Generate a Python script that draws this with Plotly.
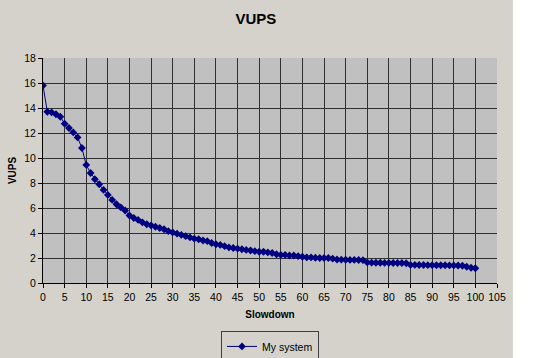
import plotly.graph_objects as go

slowdown = list(range(0, 101))
vups = [
    15.8, 13.7, 13.65, 13.5, 13.3, 12.75, 12.4, 12.05, 11.65, 10.8,
    9.45, 8.8, 8.3, 7.9, 7.45, 7.05, 6.65, 6.3, 6.05, 5.8,
    5.4, 5.2, 5.05, 4.85, 4.7, 4.6, 4.5, 4.4, 4.3, 4.15,
    4.05, 3.95, 3.85, 3.75, 3.65, 3.55, 3.5, 3.4, 3.35, 3.2,
    3.1, 3.05, 2.95, 2.85, 2.8, 2.75, 2.7, 2.65, 2.6, 2.55,
    2.5, 2.5, 2.45, 2.4, 2.3, 2.25, 2.25, 2.2, 2.2, 2.15,
    2.1, 2.05, 2.05, 2.02, 2.0, 2.0, 2.0, 1.95, 1.88, 1.87,
    1.86, 1.85, 1.85, 1.84, 1.83, 1.65, 1.63, 1.62, 1.62, 1.61,
    1.61, 1.6, 1.6, 1.6, 1.58, 1.45, 1.45, 1.44, 1.44, 1.43,
    1.43, 1.42, 1.42, 1.42, 1.41, 1.41, 1.4, 1.38, 1.3, 1.22,
    1.18,
]
x_ticks = list(range(0, 106, 5))
y_ticks = list(range(0, 19, 2))

FONT = "Arial, Liberation Sans, sans-serif"
PAGE = "#d5d2cb"

fig = go.Figure()
fig.add_trace(go.Scatter(
    x=slowdown, y=vups, mode="lines+markers", name="My system",
    line=dict(color="#000080", width=1),
    marker=dict(symbol="diamond", size=6, color="#000080"),
))

fig.update_layout(
    width=555, height=358,
    margin=dict(l=43, r=58, t=58, b=75, autoexpand=False),
    paper_bgcolor=PAGE, plot_bgcolor="#c0c0c0",
    font=dict(family=FONT, size=10, color="#000000"),
    title=dict(text="<b>VUPS</b>", font=dict(size=15, family=FONT, color="#000000"),
               x=0.469, xref="paper", xanchor="center",
               y=0.947, yref="container", yanchor="middle"),
    showlegend=True,
    legend=dict(x=0.5, xanchor="center", y=-0.213, yanchor="top",
                orientation="h", bgcolor=PAGE, bordercolor="#404040", borderwidth=1,
                font=dict(size=10.5, family=FONT)),
    xaxis=dict(range=[0, 105], tickvals=x_ticks, ticks="outside", ticklen=4,
               tickcolor="#000", showline=True, linecolor="#000", linewidth=1,
               showgrid=True, gridcolor="#303030", gridwidth=1, zeroline=False,
               automargin=False, tickfont=dict(size=10.5),
               title=dict(text="<b>Slowdown</b>", font=dict(size=10), standoff=9)),
    yaxis=dict(range=[0, 18], tickvals=y_ticks, ticks="outside", ticklen=4,
               tickcolor="#000", showline=True, linecolor="#000", linewidth=1,
               showgrid=True, gridcolor="#303030", gridwidth=1, zeroline=False,
               automargin=False, tickfont=dict(size=10.5),
               title=dict(text="<b>VUPS</b>", font=dict(size=10), standoff=5)),
    shapes=[dict(type="rect", xref="paper", yref="paper",
                 x0=1.035, x1=1.3, y0=-0.5, y1=1.4,
                 fillcolor="#ffffff", line=dict(width=0), layer="above")],
)

fig.write_html("out.html", config={"displayModeBar": False},
               post_script="document.body.style.margin='0';document.body.style.padding='0';")
